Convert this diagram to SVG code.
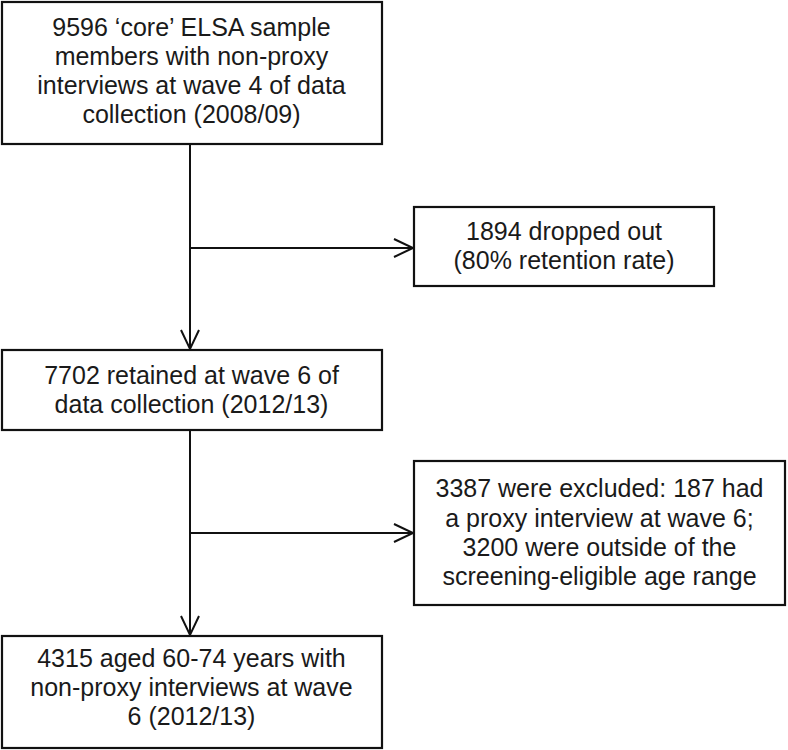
<svg xmlns="http://www.w3.org/2000/svg" width="788" height="750" viewBox="0 0 788 750">
<style>
.box{fill:#fff;stroke:#111;stroke-width:2.2}
.t{font-family:"Liberation Sans",Arial,sans-serif;font-size:25px;fill:#1a1a1a;text-anchor:middle}
.ln{fill:none;stroke:#111;stroke-width:2}
</style>
<defs>
<marker id="arr" markerWidth="24" markerHeight="24" refX="20" refY="10" orient="auto" markerUnits="userSpaceOnUse">
<path d="M1,1 L20,10 L1,19" fill="none" stroke="#111" stroke-width="2"/>
</marker>
</defs>
<rect width="788" height="750" fill="#fff"/>
<g id="connectors">
<line class="ln" x1="190" y1="144" x2="190" y2="349" marker-end="url(#arr)"/>
<line class="ln" x1="190" y1="248" x2="413" y2="248" marker-end="url(#arr)"/>
<line class="ln" x1="190" y1="430" x2="190" y2="635" marker-end="url(#arr)"/>
<line class="ln" x1="190" y1="533" x2="413" y2="533" marker-end="url(#arr)"/>
</g>
<g id="n1">
<rect class="box" x="2" y="2" width="380" height="142"/>
<text class="t" x="191.5" y="36">9596 ‘core’ ELSA sample</text>
<text class="t" x="191.5" y="65">members with non-proxy</text>
<text class="t" x="191.5" y="94">interviews at wave 4 of data</text>
<text class="t" x="191.5" y="123">collection (2008/09)</text>
</g>
<g id="n2">
<rect class="box" x="414" y="207" width="300" height="79"/>
<text class="t" x="564" y="240">1894 dropped out</text>
<text class="t" x="564" y="269">(80% retention rate)</text>
</g>
<g id="n3">
<rect class="box" x="2" y="350" width="380" height="80"/>
<text class="t" x="191.5" y="384">7702 retained at wave 6 of</text>
<text class="t" x="191.5" y="413">data collection (2012/13)</text>
</g>
<g id="n4">
<rect class="box" x="414" y="461" width="371" height="144"/>
<text class="t" x="599.5" y="497">3387 were excluded: 187 had</text>
<text class="t" x="599.5" y="527">a proxy interview at wave 6;</text>
<text class="t" x="599.5" y="556">3200 were outside of the</text>
<text class="t" x="599.5" y="585">screening-eligible age range</text>
</g>
<g id="n5">
<rect class="box" x="2" y="636" width="380" height="112"/>
<text class="t" x="191.5" y="667">4315 aged 60-74 years with</text>
<text class="t" x="191.5" y="696">non-proxy interviews at wave</text>
<text class="t" x="191.5" y="725">6 (2012/13)</text>
</g>
</svg>
